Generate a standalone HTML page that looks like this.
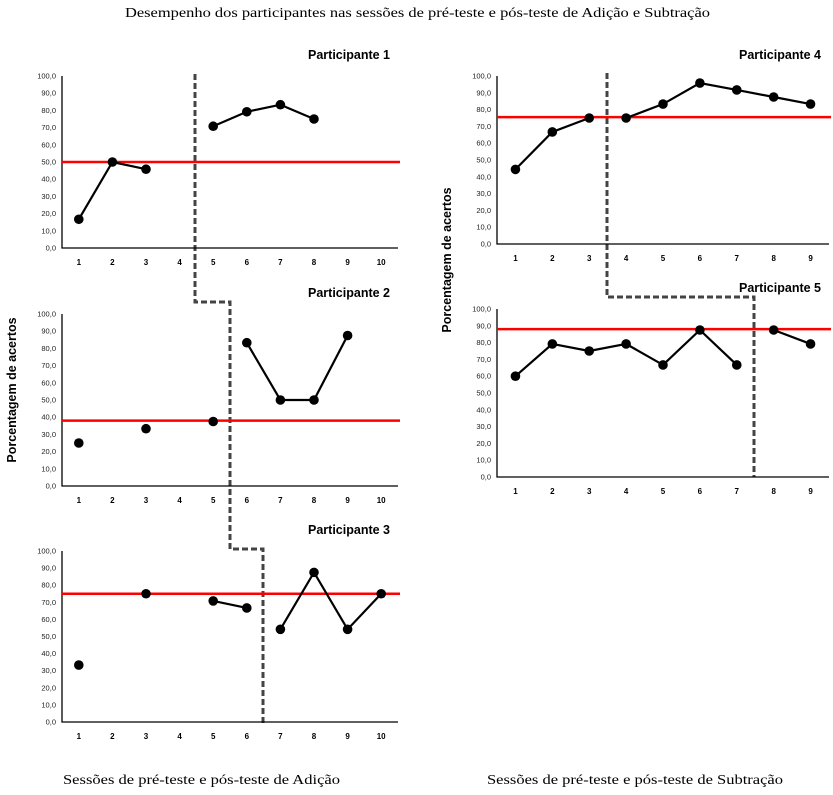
<!DOCTYPE html>
<html><head><meta charset="utf-8"><style>
body{margin:0;background:#fff;width:833px;height:795px;overflow:hidden}
svg{display:block}
</style></head><body>
<svg id="c" width="833" height="795" xmlns="http://www.w3.org/2000/svg">
<text x="125" y="17" textLength="585" lengthAdjust="spacingAndGlyphs" font-family="Liberation Serif, serif" font-size="14">Desempenho dos participantes nas sessões de pré-teste e pós-teste de Adição e Subtração</text>
<text x="63" y="784" textLength="277" lengthAdjust="spacingAndGlyphs" font-family="Liberation Serif, serif" font-size="14">Sessões de pré-teste e pós-teste de Adição</text>
<text x="487" y="784" textLength="296" lengthAdjust="spacingAndGlyphs" font-family="Liberation Serif, serif" font-size="14">Sessões de pré-teste e pós-teste de Subtração</text>
<text transform="translate(16,390) rotate(-90)" text-anchor="middle" font-family="Liberation Sans, sans-serif" font-weight="bold" font-size="12.5">Porcentagem de acertos</text>
<text transform="translate(451,260) rotate(-90)" text-anchor="middle" font-family="Liberation Sans, sans-serif" font-weight="bold" font-size="12.5">Porcentagem de acertos</text>
<path d="M195,74 V302 H230 V549 H263 V725" fill="none" stroke="#444" stroke-width="3" stroke-dasharray="6,3"/>
<path d="M607,73 V297 H754 V477" fill="none" stroke="#444" stroke-width="3" stroke-dasharray="6,3"/>
</svg>
<script>
const yTicks = ["0,0","10,0","20,0","30,0","40,0","50,0","60,0","70,0","80,0","90,0","100,0"];
const catsAdd = ["1","2","3","4","5","6","7","8","9","10"];
const catsSub = ["1","2","3","4","5","6","7","8","9"];
const p1 = [16.7,50,45.8,null,70.8,79.2,83.3,75,null,null];
const p2 = [25,null,33.3,null,37.5,83.3,50,50,87.5,null];
const p3 = [33.3,null,75,null,70.8,66.7,54.2,87.5,54.2,75];
const p4 = [44.4,66.7,75,75,83.3,95.8,91.7,87.5,83.3];
const p5 = [60,79.2,75,79.2,66.7,87.5,66.7,87.5,79.2];
const criteria = [50,38,75,75.5,88];
const phaseStart = [5,6,7,4,8];
const names = ["Participante 1","Participante 2","Participante 3","Participante 4","Participante 5"];

const svg=document.getElementById('c');
const NS='http://www.w3.org/2000/svg';
function mk(tag,attrs,parent){const e=document.createElementNS(NS,tag);for(const k in attrs)e.setAttribute(k,attrs[k]);(parent||svg).appendChild(e);return e;}

const panels=[
 {data:p1,cats:catsAdd,x0:62,x1:398,yTop:76,yBot:248},
 {data:p2,cats:catsAdd,x0:62,x1:398,yTop:314,yBot:486},
 {data:p3,cats:catsAdd,x0:62,x1:398,yTop:551,yBot:722},
 {data:p4,cats:catsSub,x0:497,x1:829,yTop:76,yBot:244},
 {data:p5,cats:catsSub,x0:497,x1:829,yTop:309,yBot:477}
];
panels.forEach((p,i)=>{
  const g=mk('g',{});
  
  
  const bw=(p.x1-p.x0)/p.cats.length;
  const xs=k=>p.x0+bw*(k+0.5);
  const ys=v=>p.yBot-(p.yBot-p.yTop)*v/100;
  const t=mk('text',{x:p.x1-8,y:p.yTop-17,'text-anchor':'end','font-family':'Liberation Sans, sans-serif','font-weight':'bold','font-size':'12.5'},g);
  t.textContent=names[i];
  
  
  yTicks.forEach((lab,k)=>{
    const tt=mk('text',{x:p.x0-6,y:ys(k*10)+2.5,'text-anchor':'end','font-family':'Liberation Sans, sans-serif','font-size':'7.5',fill:'#222'},g);
    tt.textContent=lab;
    
    
  });
  p.cats.forEach((lab,k)=>{
    const tt=mk('text',{x:xs(k),y:p.yBot+17,'text-anchor':'middle','font-family':'Liberation Sans, sans-serif','font-weight':'bold','font-size':'8'},g);
    tt.textContent=lab;
    
    
  });
  const ax=mk('path',{d:`M${p.x0},${p.yTop} V${p.yBot} H${p.x1}`,fill:'none',stroke:'#000','stroke-width':1.3},g);
  
  
  const cy=ys(criteria[i]);
  const cl=mk('line',{x1:p.x0,x2:p.x1+2,y1:cy,y2:cy,stroke:'#ff0000','stroke-width':2.5},g);
  
  
  let seg=[];
  const flush=()=>{ if(seg.length>1){const l=mk('polyline',{points:seg.join(' '),fill:'none',stroke:'#000','stroke-width':2.2},g);
    
    } seg=[]; };
  p.data.forEach((v,k)=>{
    if(k+1===phaseStart[i]) flush();
    if(v===null){flush();return;}
    seg.push(xs(k)+','+ys(v));
  });
  flush();
  p.data.forEach((v,k)=>{
    if(v===null)return;
    const c=mk('circle',{cx:xs(k),cy:ys(v),r:4.8,fill:'#000'},g);
    
    
  });
});
</script>
</body></html>
